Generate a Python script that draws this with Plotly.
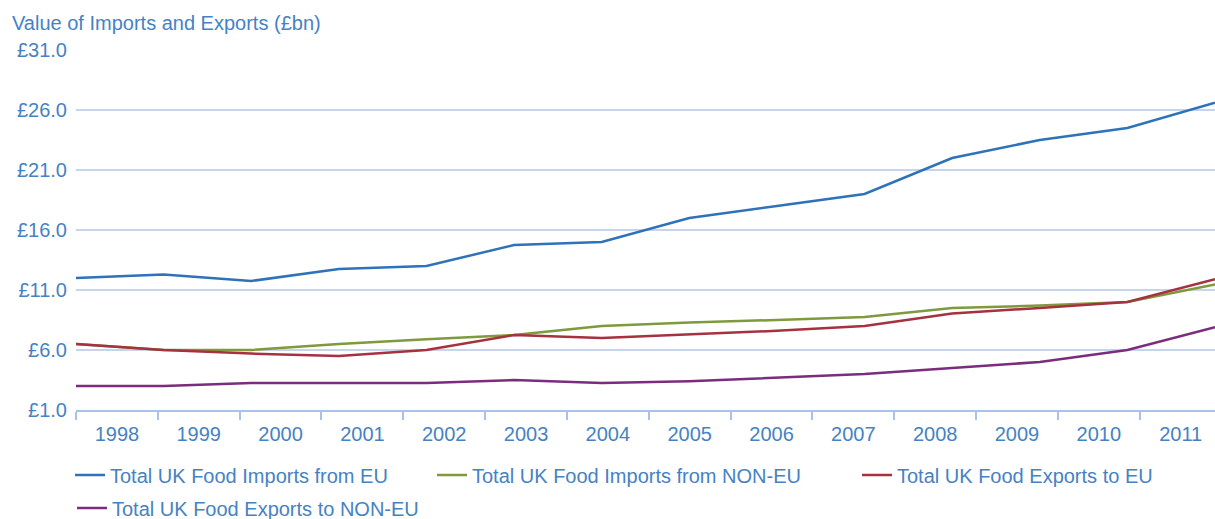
import plotly.graph_objects as go

years = [1998, 1999, 2000, 2001, 2002, 2003, 2004, 2005, 2006, 2007, 2008, 2009, 2010, 2011]
year_labels = [str(y) for y in years]
imports_eu = [12.0, 12.3, 11.75, 12.75, 13.0, 14.75, 15.0, 17.0, 18.0, 19.0, 22.0, 23.5, 24.5, 26.6]
imports_noneu = [6.5, 6.0, 6.0, 6.5, 6.9, 7.25, 8.0, 8.3, 8.5, 8.75, 9.5, 9.7, 10.0, 11.45]
exports_eu = [6.5, 6.0, 5.7, 5.5, 6.0, 7.25, 7.0, 7.3, 7.6, 8.0, 9.05, 9.5, 10.0, 11.9]
exports_noneu = [3.0, 3.0, 3.25, 3.25, 3.25, 3.5, 3.25, 3.4, 3.7, 4.0, 4.5, 5.0, 6.0, 7.9]
y_ticks = [1, 6, 11, 16, 21, 26, 31]
y_tick_labels = ["£%.1f" % v for v in y_ticks]

series = [
    ("Total UK Food Imports from EU", imports_eu, "#2e72ba", "legend"),
    ("Total UK Food Imports from NON-EU", imports_noneu, "#7f993d", "legend2"),
    ("Total UK Food Exports to EU", exports_eu, "#a6313f", "legend3"),
    ("Total UK Food Exports to NON-EU", exports_noneu, "#7b2c7c", "legend4"),
]

TXT = "#4682c3"
FONT = "Liberation Sans, Arial, sans-serif"
FS = 20

fig = go.Figure()
# category axis carrying the year labels
fig.add_trace(go.Scatter(x=year_labels, y=[None] * len(year_labels), mode="lines",
                         showlegend=False, hoverinfo="skip", xaxis="x", yaxis="y"))
for name, vals, col, leg in series:
    fig.add_trace(go.Scatter(x=years, y=vals, name=name, mode="lines",
                             line=dict(color=col, width=2.5), xaxis="x2", yaxis="y",
                             legend=leg))

L, T, B = 76, 50, 109
W, H = 1215, 519
pw = W - L
ph = H - T - B

def px_x(x):
    return (x - L) / pw

def px_y(y):
    return (H - B - y) / ph

legend_common = dict(orientation="h", xanchor="left", yanchor="middle",
                     font=dict(family=FONT, size=FS, color=TXT),
                     bgcolor="rgba(0,0,0,0)", borderwidth=0)

fig.update_layout(
    width=W, height=H,
    margin=dict(l=L, r=0, t=T, b=B, autoexpand=False),
    paper_bgcolor="white", plot_bgcolor="white",
    font=dict(family=FONT, size=FS, color=TXT),
    title=dict(text="Value of Imports and Exports (£bn)", x=12 / W, xanchor="left",
               y=1 - 23 / H, yanchor="middle", xref="container", yref="container",
               font=dict(family=FONT, size=FS, color=TXT)),
    xaxis=dict(type="category", range=[-0.5, 13.42], tickson="boundaries", ticks="outside",
               ticklen=8, tickwidth=1.5, tickcolor="#a9c2e6", showline=True,
               linecolor="#a9c2e6", linewidth=2, showgrid=False, zeroline=False,
               ticklabelstandoff=5,
               tickfont=dict(family=FONT, size=FS, color=TXT), fixedrange=True),
    xaxis2=dict(overlaying="x", range=[1998, 2011], visible=False, anchor="y"),
    yaxis=dict(range=[1, 31], tickvals=y_ticks, ticktext=y_tick_labels,
               showgrid=True, gridcolor="#c6d5ec", gridwidth=2, zeroline=False,
               showline=False, ticks="", ticklabelstandoff=8,
               tickfont=dict(family=FONT, size=FS, color=TXT)),
    legend=dict(x=px_x(70), y=px_y(475), **legend_common),
    legend2=dict(x=px_x(432), y=px_y(475), **legend_common),
    legend3=dict(x=px_x(857), y=px_y(475), **legend_common),
    legend4=dict(x=px_x(72), y=px_y(508), **legend_common),
)

fig.write_html("out.html", config={"displayModeBar": False},
               post_script="document.body.style.margin='0';")
